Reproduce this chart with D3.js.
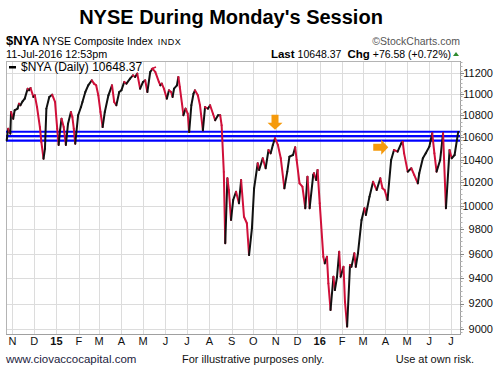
<!DOCTYPE html>
<html>
<head>
<meta charset="utf-8">
<script src="https://cdn.jsdelivr.net/npm/d3@7"></script>
<style>
  body { margin: 0; background: #fff; }
  svg { display: block; }
  text { font-family: "Liberation Sans", Arial, sans-serif; }
</style>
</head>
<body>
<svg id="chart" width="497" height="376"></svg>
<script>
// closes (approx.), one entry per date
const dates = [
  "2014-10-24","2014-10-26","2014-10-29","2014-10-30","2014-11-02","2014-11-04","2014-11-08","2014-11-10","2014-11-12","2014-11-15",
  "2014-11-18","2014-11-22","2014-11-24","2014-11-26","2014-11-30","2014-12-02","2014-12-05","2014-12-09","2014-12-11","2014-12-14",
  "2014-12-16","2014-12-18","2014-12-22","2014-12-26","2014-12-30","2015-01-02","2015-01-04","2015-01-06","2015-01-08","2015-01-11",
  "2015-01-14","2015-01-17","2015-01-21","2015-01-23","2015-01-25","2015-01-27","2015-01-31","2015-02-04","2015-02-06","2015-02-10",
  "2015-02-14","2015-02-19","2015-02-22","2015-02-25","2015-02-28","2015-03-03","2015-03-06","2015-03-09","2015-03-14","2015-03-19",
  "2015-03-22","2015-03-25","2015-03-29","2015-04-01","2015-04-05","2015-04-08","2015-04-13","2015-04-17","2015-04-20","2015-04-23",
  "2015-04-27","2015-05-01","2015-05-04","2015-05-07","2015-05-11","2015-05-14","2015-05-18","2015-05-23","2015-05-25","2015-05-27",
  "2015-05-30","2015-06-03","2015-06-06","2015-06-09","2015-06-11","2015-06-13","2015-06-17","2015-06-19","2015-06-21","2015-06-24",
  "2015-06-26","2015-06-29","2015-07-02","2015-07-04","2015-07-07","2015-07-10","2015-07-12","2015-07-16","2015-07-19","2015-07-23",
  "2015-07-26","2015-07-30","2015-08-02","2015-08-06","2015-08-09","2015-08-13","2015-08-16","2015-08-18","2015-08-21","2015-08-23",
  "2015-08-26","2015-08-28","2015-08-31","2015-09-03","2015-09-07","2015-09-11","2015-09-14","2015-09-18","2015-09-22","2015-09-25",
  "2015-09-29","2015-10-02","2015-10-07","2015-10-09","2015-10-14","2015-10-18","2015-10-22","2015-10-25","2015-10-28","2015-10-31",
  "2015-11-04","2015-11-08","2015-11-13","2015-11-17","2015-11-20","2015-11-25","2015-11-28","2015-11-30","2015-12-04","2015-12-08",
  "2015-12-12","2015-12-15","2015-12-18","2015-12-23","2015-12-24","2015-12-27","2015-12-29","2016-01-01","2016-01-06","2016-01-08",
  "2016-01-11","2016-01-13","2016-01-16","2016-01-20","2016-01-22","2016-01-25","2016-01-28","2016-01-30","2016-02-03","2016-02-05",
  "2016-02-08","2016-02-12","2016-02-14","2016-02-18","2016-02-20","2016-02-23","2016-02-28","2016-03-03","2016-03-05","2016-03-10",
  "2016-03-15","2016-03-20","2016-03-25","2016-03-28","2016-03-31","2016-04-04","2016-04-09","2016-04-13","2016-04-18","2016-04-23",
  "2016-04-25","2016-04-27","2016-05-02","2016-05-07","2016-05-11","2016-05-16","2016-05-18","2016-05-23","2016-05-27","2016-06-01",
  "2016-06-05","2016-06-08","2016-06-11","2016-06-16","2016-06-20","2016-06-24","2016-06-29","2016-07-02","2016-07-06","2016-07-11"
];
const closes = [
  10573,10678,10633,10831,10769,10847,10862,10908,10893,10930,
  10955,11048,11033,11055,10971,10986,10877,10693,10558,10408,
  10497,10862,10971,10992,10924,10678,10531,10666,10769,10693,
  10531,10724,10831,10785,10678,10542,10801,10877,10924,11017,
  11080,11128,11096,11080,10986,10831,10693,10831,10986,11080,
  10924,10893,11017,11033,11112,11096,11143,11175,11159,11191,
  11048,11112,11128,11017,11207,11238,11207,11112,11080,11096,
  11048,10955,11033,11017,10971,11048,11080,11159,11064,10908,
  10801,10862,10815,10648,10893,11001,11033,10986,10893,10663,
  10877,10862,10893,10815,10755,10801,10801,10709,10292,9685,
  10236,10134,9879,10048,10120,10020,10221,9906,9851,9588,
  9809,10149,10368,10309,10412,10324,10486,10456,10531,10591,
  10531,10412,10149,10294,10426,10441,10510,10397,10192,10163,
  9978,10250,9978,10265,10280,10221,10309,10020,9574,9520,
  9574,9359,9149,9412,9306,9412,9615,9412,9492,9214,
  9021,9506,9492,9602,9492,9602,9879,9978,9921,10077,
  10206,10134,10236,10149,10134,10048,10397,10486,10471,10545,
  10560,10456,10294,10324,10265,10192,10280,10412,10456,10516,
  10636,10456,10294,10397,10636,9978,10486,10412,10441,10648.37
];
const yTicks = [9000,9200,9400,9600,9800,10000,10200,10400,10600,10800,11000,11200];
const monthLabels = ["N","D","15","F","M","A","M","J","J","A","S","O","N","D","16","F","M","A","M","J","J"];
const levels = [10570, 10610, 10650];           // blue resistance band
const downArrow = { date: "2015-10-31", value: 10668 };
const rightArrow = { date: "2016-04-05", value: 10510 };

const parse = d3.timeParse("%Y-%m-%d");
const data = dates.map((d, i) => ({ date: parse(d), close: closes[i] }));

const svg = d3.select("#chart");
const pL = 6, pR = 460, pT = 61, pB = 334;

const x = d3.scaleTime()
    .domain([new Date(2014, 9, 23), new Date(2016, 6, 13, 12)])
    .range([pL, pR]);
const y = d3.scaleLog()
    .domain([8964, 11312])
    .range([pB, pT]);

const monthStarts = d3.timeMonth.range(new Date(2014, 10, 1), new Date(2016, 6, 2));

// grid
let grid = svg.append("g").attr("stroke", "#dcdcdc").attr("stroke-width", 1);
grid.selectAll("line.h").data(yTicks).join("line")
    .attr("x1", pL).attr("x2", pR)
    .attr("y1", d => Math.round(y(d)) + 0.5).attr("y2", d => Math.round(y(d)) + 0.5);
grid.selectAll("line.v").data(monthStarts).join("line")
    .attr("y1", pT).attr("y2", pB)
    .attr("x1", d => Math.round(x(d)) + 0.5).attr("x2", d => Math.round(x(d)) + 0.5);

// frame
svg.append("rect")
    .attr("x", pL + 0.5).attr("y", pT + 0.5)
    .attr("width", pR - pL).attr("height", pB - pT)
    .attr("fill", "none").attr("stroke", "#b4b4b4");

// blue levels
svg.append("g").selectAll("line").data(levels).join("line")
    .attr("x1", pL).attr("x2", pR)
    .attr("y1", d => y(d)).attr("y2", d => y(d))
    .attr("stroke", "#0000ff").attr("stroke-width", 2.2);

// price line, black when up, crimson when down
let segs = data.slice(1).map((d, i) => ({ a: data[i], b: d }));
svg.append("g").selectAll("line").data(segs).join("line")
    .attr("x1", d => x(d.a.date)).attr("y1", d => y(d.a.close))
    .attr("x2", d => x(d.b.date)).attr("y2", d => y(d.b.close))
    .attr("stroke", d => d.b.close >= d.a.close ? "#111" : "#d0103a")
    .attr("stroke-width", 2)
    .attr("stroke-linecap", "round");

// orange arrows
const orange = "#f59a0c";
let dx = x(parse(downArrow.date)), dy = y(downArrow.value);
svg.append("polygon")
    .attr("points", [[-3.5,-15],[3.5,-15],[3.5,-7],[7.5,-7],[0,0],[-7.5,-7],[-3.5,-7]]
        .map(p => [dx + p[0], dy + p[1]].join(",")).join(" "))
    .attr("fill", orange);
let rx = x(parse(rightArrow.date)), ry = y(rightArrow.value);
svg.append("polygon")
    .attr("points", [[-15,-3.5],[-7,-3.5],[-7,-7.5],[0,0],[-7,7.5],[-7,3.5],[-15,3.5]]
        .map(p => [rx + p[0], ry + p[1]].join(",")).join(" "))
    .attr("fill", orange);

// right axis
svg.append("line")
    .attr("x1", pR + 0.5).attr("x2", pR + 0.5).attr("y1", pT).attr("y2", pB + 1)
    .attr("stroke", "#a0a0a0");
svg.append("line")
    .attr("x1", pL).attr("x2", pR).attr("y1", pB + 0.5).attr("y2", pB + 0.5)
    .attr("stroke", "#a0a0a0");
svg.append("g").selectAll("line").data(d3.range(8980, 11320, 40)).join("line")
    .attr("x1", pR).attr("x2", pR + 2.5)
    .attr("y1", d => Math.round(y(d)) + 0.5).attr("y2", d => Math.round(y(d)) + 0.5)
    .attr("stroke", "#b0b0b0");
svg.append("g").selectAll("line").data(yTicks).join("line")
    .attr("x1", pR).attr("x2", pR + 4)
    .attr("y1", d => Math.round(y(d)) + 0.5).attr("y2", d => Math.round(y(d)) + 0.5)
    .attr("stroke", "#888");
svg.append("g").selectAll("text").data(yTicks).join("text")
    .attr("x", 493).attr("y", d => y(d)).attr("dy", "0.36em")
    .attr("text-anchor", "end").attr("font-size", "11px").attr("fill", "#111")
    .text(d => d);

// month labels
svg.append("g").selectAll("text").data(monthStarts).join("text")
    .attr("x", d => x(d)).attr("y", 345)
    .attr("text-anchor", "middle").attr("font-size", "11px").attr("fill", "#111")
    .attr("font-weight", (d, i) => monthLabels[i].length > 1 ? "bold" : "normal")
    .text((d, i) => monthLabels[i]);

// header
svg.append("text").attr("x", 231).attr("y", 24).attr("text-anchor", "middle")
    .attr("font-size", "20px").attr("font-weight", "bold").attr("fill", "#000")
    .text("NYSE During Monday's Session");

let h1 = svg.append("text").attr("x", 6).attr("y", 45).attr("fill", "#000");
h1.append("tspan").attr("font-size", "13px").attr("font-weight", "bold").text("$NYA");
h1.append("tspan").attr("font-size", "10.5px").attr("dx", 3).text("NYSE Composite Index");
h1.append("tspan").attr("font-size", "9px").attr("dx", 5).attr("letter-spacing", "0.5px").text("INDX");

svg.append("text").attr("x", 460).attr("y", 45).attr("text-anchor", "end")
    .attr("font-size", "10.5px").attr("fill", "#555").text("\u00A9StockCharts.com");

svg.append("text").attr("x", 6).attr("y", 57.5).attr("font-size", "10.8px").attr("fill", "#000")
    .text("11-Jul-2016 12:53pm");

let h2 = svg.append("text").attr("x", 451).attr("y", 57.5).attr("text-anchor", "end")
    .attr("font-size", "10.5px").attr("fill", "#000");
h2.append("tspan").attr("font-weight", "bold").attr("font-size", "11.5px").text("Last");
h2.append("tspan").attr("dx", 3).text("10648.37");
h2.append("tspan").attr("dx", 6).attr("font-weight", "bold").attr("font-size", "11.5px").text("Chg");
h2.append("tspan").attr("dx", 3).text("+76.58 (+0.72%)");
svg.append("polygon").attr("points", "453,56 459,56 456,52").attr("fill", "#2e8b2e");

// legend inside plot
svg.append("rect").attr("x", 9).attr("y", 66).attr("width", 7).attr("height", 2.5).attr("fill", "#000");
svg.append("text").attr("x", 21).attr("y", 71).attr("font-size", "12px").attr("fill", "#000")
    .text("$NYA (Daily) 10648.37");
svg.append("line").attr("x1", 151).attr("x2", 156).attr("y1", 69).attr("y2", 67)
    .attr("stroke", "#d0103a").attr("stroke-width", 1.5);

// footer
svg.append("text").attr("x", 6).attr("y", 363).attr("font-size", "11.5px").attr("fill", "#1c1c40")
    .text("www.ciovaccocapital.com");
svg.append("text").attr("x", 182).attr("y", 363).attr("font-size", "11px").attr("fill", "#111")
    .text("For illustrative purposes only.");
svg.append("text").attr("x", 474).attr("y", 363).attr("text-anchor", "end").attr("font-size", "11px").attr("fill", "#111")
    .text("Use at own risk.");
</script>
</body>
</html>
